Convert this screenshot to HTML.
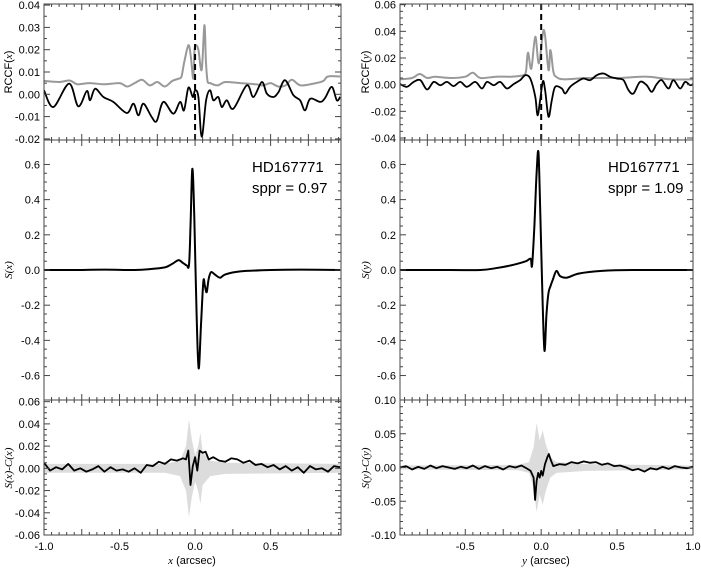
<!DOCTYPE html>
<html><head><meta charset="utf-8"><style>
body{margin:0;background:#fff}
svg{font-family:"Liberation Sans",sans-serif}
</style></head><body>
<svg id="c" width="701" height="567" viewBox="0 0 701 567" xmlns="http://www.w3.org/2000/svg"></svg>
<script>
// ---- data ----
const tlBlackX=[-1.0,-0.938,-0.834,-0.773,-0.717,-0.695,-0.662,-0.607,-0.541,-0.452,-0.408,-0.375,-0.342,-0.287,-0.254,-0.21,-0.144,-0.099,-0.073,-0.044,-0.015,0,0.022,0.044,0.073,0.099,0.121,0.154,0.177,0.21,0.254,0.342,0.386,0.442,0.475,0.519,0.552,0.596,0.651,0.695,0.728,0.762,0.828,0.861,0.905,0.938,0.96];
const tlBlackY=[1.8,-5.7,4.8,-5.4,1.5,-2.7,2.5,-1.2,-3.4,-8.4,-4.2,-9.4,-4.2,-10.2,-12,-3.4,-8.7,-3.4,-7.2,3,-1.2,1.8,-1.2,-19,-2.7,1.8,-2.7,-1.2,-5.7,-2.7,-6.4,4,-1.2,5.5,0.3,-1.2,1,6.3,-0.4,-2.7,-7.2,-2,-3.4,-1.6,3.3,-2.7,-1.2];
const tlGrayX=[-1,-0.9,-0.83,-0.78,-0.7,-0.6,-0.5,-0.45,-0.4,-0.35,-0.3,-0.25,-0.2,-0.15,-0.11,-0.09,-0.07,-0.044,-0.028,-0.012,-0.004,0.008,0.022,0.044,0.062,0.072,0.082,0.1,0.15,0.2,0.3,0.4,0.45,0.5,0.55,0.6,0.64,0.7,0.8,0.85,0.88,0.96];
const tlGrayY=[6,5.5,6.2,4.5,5,4.5,5,3.5,5,6.5,4,5.5,3.5,6,7,8,15,22,17,7,20,22,20,11,31,15,6,5,4,5.5,5,4.5,4,5,3.5,4,6.5,4,5,6,8,8];
const trBlackX=[-0.928,-0.884,-0.84,-0.796,-0.752,-0.708,-0.664,-0.621,-0.577,-0.533,-0.489,-0.434,-0.39,-0.357,-0.313,-0.27,-0.226,-0.182,-0.138,-0.105,-0.072,-0.039,-0.024,-0.007,0.011,0.026,0.048,0.07,0.092,0.136,0.158,0.191,0.235,0.278,0.322,0.366,0.41,0.454,0.498,0.542,0.575,0.608,0.651,0.695,0.728,0.761,0.794,0.838,0.871,0.915,0.948,0.981,1.0];
const trBlackY=[0.4,-1.6,2.1,3.4,-3.6,2.1,-0.4,2.1,-1.1,2.1,-1.6,2.1,-2.9,2.1,-0.4,2.1,-2.9,0.4,3.4,7.1,4.6,-9.2,-23,-11.7,2.5,-4.1,-24,-11.7,-1.6,-2.9,-6.6,-1.6,2.1,4.6,3.4,7.1,8.4,5.9,4.6,3.4,-4.1,-6.6,2.1,-0.4,-5.4,0.4,3.4,-2.9,3.4,-2.9,2.1,-0.4,0.4];
const trGrayX=[-0.93,-0.85,-0.8,-0.75,-0.7,-0.6,-0.5,-0.45,-0.4,-0.3,-0.2,-0.12,-0.1,-0.087,-0.065,-0.039,-0.015,0.018,0.048,0.061,0.08,0.098,0.15,0.3,0.5,0.7,0.85,1.0];
const trGrayY=[4,5,8,5,6,5,6,9,5,6,6,7,10,24,12,36,16,41,11,26,10,6,4,5,5,6,4,4];
const mlX=[-1,-0.8,-0.6,-0.4,-0.3,-0.2,-0.15,-0.11,-0.08,-0.055,-0.04,-0.03,-0.018,-0.005,0.01,0.024,0.04,0.055,0.065,0.077,0.09,0.106,0.13,0.166,0.2,0.3,0.5,0.7,0.96];
const mlY=[0,0,0.002,0,0.005,0.015,0.035,0.056,0.04,0.026,0.03,0.25,0.575,0.3,-0.25,-0.56,-0.3,-0.064,-0.09,-0.126,-0.05,-0.012,-0.025,-0.044,-0.025,-0.008,0,0.002,0];
const mrX=[-0.93,-0.6,-0.4,-0.3,-0.18,-0.1,-0.07,-0.06,-0.045,-0.03,-0.018,-0.005,0.01,0.022,0.035,0.048,0.062,0.077,0.1,0.125,0.17,0.25,0.4,0.6,1.0];
const mrY=[0,0,0,0.01,0.03,0.05,0.064,0.026,0.25,0.55,0.666,0.3,-0.2,-0.46,-0.25,-0.13,-0.09,-0.054,-0.005,-0.035,-0.043,-0.02,-0.005,0,0];
const blX=[-1,-0.96,-0.92,-0.88,-0.84,-0.8,-0.76,-0.72,-0.68,-0.64,-0.6,-0.56,-0.52,-0.48,-0.44,-0.4,-0.36,-0.32,-0.28,-0.24,-0.2,-0.16,-0.12,-0.08,-0.06,-0.045,-0.03,-0.015,0,0.015,0.03,0.05,0.07,0.09,0.12,0.16,0.2,0.24,0.28,0.32,0.36,0.4,0.44,0.48,0.52,0.56,0.6,0.64,0.68,0.72,0.76,0.8,0.84,0.88,0.92,0.96];
const blY=[5,-2,1,-1,4,-2,0,-3,-1,2,-3,1,-2,-1,-3,0,-4,3,2,6,4,8,7,9,8,16,-15,2,10,-2,16,14,15,8,10,7,6,9,8,5,7,3,4,1,3,-1,2,-2,1,-4,2,-1,0,-3,2,1];
const blBandX=[-1,-0.2,-0.1,-0.06,-0.04,-0.02,0,0.02,0.035,0.05,0.1,0.2,0.96];
const blBandW=[4,4,7,20,44,25,12,20,32,15,7,5,4];
const brX=[-0.93,-0.89,-0.85,-0.81,-0.77,-0.73,-0.69,-0.65,-0.61,-0.57,-0.53,-0.49,-0.45,-0.41,-0.37,-0.33,-0.29,-0.25,-0.21,-0.17,-0.13,-0.09,-0.07,-0.05,-0.04,-0.03,-0.02,-0.01,0,0.01,0.025,0.04,0.05,0.065,0.08,0.12,0.16,0.2,0.24,0.28,0.32,0.36,0.4,0.44,0.48,0.52,0.56,0.6,0.64,0.68,0.72,0.76,0.8,0.84,0.88,0.92,0.96,1.0];
const brY=[0,2,-3,1,-2,3,-1,2,0,-2,1,-1,3,-2,2,-1,1,-3,2,0,3,-2,-5,-15,-48,-20,-8,-15,-5,-12,5,15,20,10,2,5,4,8,6,9,7,8,4,6,2,3,0,-4,-2,-6,-1,-3,1,-2,2,0,-1,1];
const brBandX=[-0.93,-0.15,-0.08,-0.05,-0.03,-0.01,0.01,0.03,0.06,0.1,0.3,1.0];
const brBandW=[3,4,8,30,66,40,55,35,15,8,5,3];
const xTicksL=[-1.0,-0.5,0.0,0.5];
const xTicksR=[-0.5,0.0,0.5,1.0];

// ---- drawing ----
const S=document.getElementById('c');
const NS='http://www.w3.org/2000/svg';
function mk(tag,at,parent){const e=document.createElementNS(NS,tag);for(const k in at)e.setAttribute(k,at[k]);(parent||S).appendChild(e);return e;}
function axis(px0,px1,dmin,dmax){return v=>px0+(v-dmin)/(dmax-dmin)*(px1-px0);}
function pathOf(xs,ys,sx,sy,k,smooth){
  const P=xs.map((x,i)=>[sx(x),sy(ys[i]*k)]);
  let d='M'+P[0][0].toFixed(1)+','+P[0][1].toFixed(1);
  for(let i=0;i<P.length-1;i++){
    if(!smooth){d+='L'+P[i+1][0].toFixed(1)+','+P[i+1][1].toFixed(1);continue;}
    const p0=P[Math.max(0,i-1)],p1=P[i],p2=P[i+1],p3=P[Math.min(P.length-1,i+2)];
    const c1=[p1[0]+(p2[0]-p0[0])/6,p1[1]+(p2[1]-p0[1])/6],c2=[p2[0]-(p3[0]-p1[0])/6,p2[1]-(p3[1]-p1[1])/6];
    d+='C'+c1[0].toFixed(1)+','+c1[1].toFixed(1)+' '+c2[0].toFixed(1)+','+c2[1].toFixed(1)+' '+p2[0].toFixed(1)+','+p2[1].toFixed(1);
  }
  return d;}
function txt(x,y,s,at,name){const t=mk('text',Object.assign({x:x,y:y,'font-size':11,fill:'#000'},at||{}));t.textContent=s;return t;}

function panel(o){
  const g=mk('g',{});
  
  
  const sx=axis(o.x0,o.x1,o.xmin,o.xmax), sy=axis(o.y1,o.y0,o.ymin,o.ymax);
  const clipId='cl'+o.name;
  const cp=mk('clipPath',{id:clipId},g);mk('rect',{x:o.x0,y:o.y0,width:o.x1-o.x0,height:o.y1-o.y0},cp);
  const body=mk('g',{'clip-path':'url(#'+clipId+')'},g);
  if(o.band){
    let d='';const bx=o.band[0],bw=o.band[1];
    for(let i=0;i<bx.length;i++)d+=(i?'L':'M')+sx(bx[i]).toFixed(1)+','+sy(bw[i]*o.k).toFixed(1);
    for(let i=bx.length-1;i>=0;i--)d+='L'+sx(bx[i]).toFixed(1)+','+sy(-bw[i]*o.k).toFixed(1);
    const b=mk('path',{d:d+'Z',fill:'#dcdcdc',stroke:'none'},body);
    
    
  }
  (o.series||[]).forEach(s=>{
    const p=mk('path',{d:pathOf(s.x,s.y,sx,sy,o.k,s.smooth),fill:'none',stroke:s.c,'stroke-width':s.w,'stroke-linejoin':'round'},body);
    
    
  });
  if(o.dash){const l=mk('line',{x1:sx(0),x2:sx(0),y1:o.y0,y2:o.y1,stroke:'#000','stroke-width':2,'stroke-dasharray':'6,4'},body);
    
    }
  mk('rect',{x:o.x0,y:o.y0,width:o.x1-o.x0,height:o.y1-o.y0,fill:'none',stroke:'#444','stroke-width':1},g);
  for(let v=Math.ceil(o.xmin/0.05)*0.05;v<=o.xmax+1e-9;v+=0.05){
    const vv=Math.round(v*100)/100;const major=Math.abs(vv*4-Math.round(vv*4))<1e-6;const L=major?6:3;const X=sx(vv);
    mk('line',{x1:X,x2:X,y1:o.y1,y2:o.y1-L,stroke:'#444','stroke-width':1},g);
    mk('line',{x1:X,x2:X,y1:o.y0,y2:o.y0+L,stroke:'#444','stroke-width':1},g);
  }
  o.yt.forEach(v=>{const Y=sy(v);
    mk('line',{x1:o.x0,x2:o.x0+6,y1:Y,y2:Y,stroke:'#444'},g);mk('line',{x1:o.x1,x2:o.x1-6,y1:Y,y2:Y,stroke:'#444'},g);
    txt(o.x0-4,Y+4,v.toFixed(o.dec),{'text-anchor':'end'},'y-tick-label');});
  for(let i=0;i<o.yt.length-1;i++){const st=(o.yt[i+1]-o.yt[i])/o.minor;for(let j=1;j<o.minor;j++){const Y=sy(o.yt[i]+st*j);
    mk('line',{x1:o.x0,x2:o.x0+3,y1:Y,y2:Y,stroke:'#444'},g);mk('line',{x1:o.x1,x2:o.x1-3,y1:Y,y2:Y,stroke:'#444'},g);}}
  if(o.xt)o.xt.forEach(v=>txt(sx(v),550,v.toFixed(1),{'text-anchor':'middle'},'x-tick-label'));
  return g;
}
function ytitle(x,y,html,name){const t=mk('text',{x:0,y:0,'font-size':11,'text-anchor':'middle',transform:`translate(${x},${y}) rotate(-90)`});t.innerHTML=html;}

const L={x0:44,x1:341,xmin:-1.0,xmax:0.966}, R={x0:400,x1:693,xmin:-0.93,xmax:1.0};
panel(Object.assign({name:'rccf-x-panel',y0:4,y1:140,ymin:-0.0205,ymax:0.0405,k:0.001,dec:2,yt:[-0.02,-0.01,0,0.01,0.02,0.03,0.04],minor:2,dash:true,
  series:[{x:tlGrayX,y:tlGrayY,c:'#999',w:2,name:'rccf-gray-line',smooth:true},{x:tlBlackX,y:tlBlackY,c:'#000',w:1.8,name:'rccf-black-line',smooth:true}]},L));
panel(Object.assign({name:'sx-panel',y0:140,y1:400,ymin:-0.739,ymax:0.739,k:1,dec:1,yt:[-0.6,-0.4,-0.2,0,0.2,0.4,0.6],minor:4,
  series:[{x:mlX,y:mlY,c:'#000',w:2,name:'sx-line',smooth:true}]},L));
panel(Object.assign({name:'sx-residual-panel',y0:400,y1:535,ymin:-0.06,ymax:0.0615,k:0.001,dec:2,yt:[-0.06,-0.04,-0.02,0,0.02,0.04,0.06],minor:4,xt:xTicksL,
  band:[blBandX,blBandW],series:[{x:blX,y:blY,c:'#000',w:1.8,name:'residual-line'}]},L));
panel(Object.assign({name:'rccf-y-panel',y0:4,y1:140,ymin:-0.0415,ymax:0.0605,k:0.001,dec:2,yt:[-0.04,-0.02,0,0.02,0.04,0.06],minor:4,dash:true,
  series:[{x:trGrayX,y:trGrayY,c:'#999',w:2,name:'rccf-gray-line',smooth:true},{x:trBlackX,y:trBlackY,c:'#000',w:1.8,name:'rccf-black-line',smooth:true}]},R));
panel(Object.assign({name:'sy-panel',y0:140,y1:400,ymin:-0.739,ymax:0.739,k:1,dec:1,yt:[-0.6,-0.4,-0.2,0,0.2,0.4,0.6],minor:4,
  series:[{x:mrX,y:mrY,c:'#000',w:2,name:'sy-line',smooth:true}]},R));
panel(Object.assign({name:'sy-residual-panel',y0:400,y1:535,ymin:-0.1,ymax:0.1,k:0.001,dec:2,yt:[-0.1,-0.05,0,0.05,0.1],minor:5,xt:xTicksR,
  band:[brBandX,brBandW],series:[{x:brX,y:brY,c:'#000',w:1.8,name:'residual-line'}]},R));

ytitle(12,72,'RCCF(<tspan font-style="italic" font-family="Liberation Serif">x</tspan>)','y-axis-title-rccf-x');
ytitle(12,270,'<tspan font-family="Liberation Serif" font-style="italic">S(x)</tspan>','y-axis-title-sx');
ytitle(12,468,'<tspan font-family="Liberation Serif" font-style="italic">S(x)-C(x)</tspan>','y-axis-title-residual-x');
ytitle(369,72,'RCCF(<tspan font-style="italic" font-family="Liberation Serif">y</tspan>)','y-axis-title-rccf-y');
ytitle(369,270,'<tspan font-family="Liberation Serif" font-style="italic">S(y)</tspan>','y-axis-title-sy');
ytitle(369,468,'<tspan font-family="Liberation Serif" font-style="italic">S(y)-C(y)</tspan>','y-axis-title-residual-y');
const xl=mk('text',{x:192,y:564,'font-size':11,'text-anchor':'middle'});xl.innerHTML='<tspan font-family="Liberation Serif" font-style="italic">x</tspan> (arcsec)';


const xr=mk('text',{x:546,y:564,'font-size':11,'text-anchor':'middle'});xr.innerHTML='<tspan font-family="Liberation Serif" font-style="italic">y</tspan> (arcsec)';


txt(252,172,'HD167771',{'font-size':15},'star-name-left');
txt(252,193,'sppr = 0.97',{'font-size':15},'sppr-left');
txt(608,172,'HD167771',{'font-size':15},'star-name-right');
txt(608,193,'sppr = 1.09',{'font-size':15},'sppr-right');
</script>
</body></html>
